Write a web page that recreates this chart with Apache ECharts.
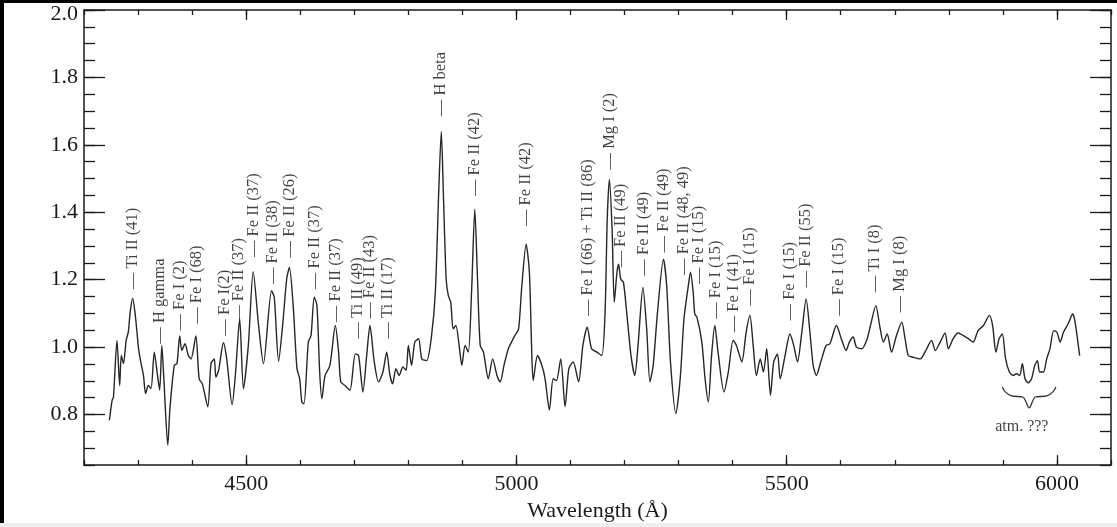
<!DOCTYPE html>
<html>
<head>
<meta charset="utf-8">
<script src="https://cdn.jsdelivr.net/npm/echarts@6/dist/echarts.min.js"></script>
<style>
html,body{margin:0;padding:0;background:#fff;}
#chart{width:1117px;height:527px;}
</style>
</head>
<body>
<div id="chart"></div>
<script>
// ---- data ----
const wavelength = [4247,4252,4254.5,4261,4266,4269,4273,4278,4282,4285.4,4290,4295,4301,4305,4310,4314,4319,4324,4330,4336,4340,4344,4348,4355,4359,4367,4372,4377,4381,4387,4393,4398,4407,4413,4419,4429,4435,4441,4444,4449,4458,4464,4474,4480,4488,4495,4504,4513,4523,4532,4547,4552,4560,4568,4575,4580,4587,4594,4599,4603,4607,4615,4620,4626,4631,4636,4640,4646,4655,4665,4671,4675,4683,4692,4702,4708,4716,4723,4729,4737,4745,4753,4760,4766,4771,4777,4783,4790,4796,4800,4806,4812,4819,4825,4834,4843,4850,4856,4861,4865,4870,4874,4878.5,4883,4888,4894,4899,4905,4911,4917,4923,4928,4933,4939,4948,4956,4964,4970,4977,4985,4991,4997,5004,5010,5018,5024,5028,5031,5039,5047,5053,5061,5068,5074,5082,5090,5097,5105,5115,5123,5131,5139,5149,5158,5164,5168,5172,5177,5181,5186,5189,5193,5198,5204,5212,5219,5225,5234,5241,5247,5253,5261,5272,5278,5285,5295,5303,5310,5318,5322,5327,5330,5334,5343,5349,5355,5361,5367,5373,5384,5392,5401,5407,5417,5425,5432,5438,5444,5451,5457,5463,5470,5476,5483,5488,5497,5506,5513,5520,5528,5536,5543,5549,5555,5563,5573,5580,5592,5602,5610,5616,5623,5629,5639,5648,5655,5665,5672,5679,5686,5694,5703,5713,5719,5725,5734,5747,5759,5768,5775,5784,5793,5799,5808,5817,5827,5836,5845,5854,5864,5875,5881,5887,5893,5899,5905,5912,5919,5925,5931,5936,5941,5947,5953,5959,5964,5968,5975,5981,5987,5994,6000,6006,6012,6019,6022,6029,6033,6042];
const flux = [0.783,0.842,0.852,1.020,0.886,0.975,0.951,1.020,1.045,1.103,1.145,1.093,0.995,0.956,0.916,0.862,0.886,0.877,0.985,0.916,0.872,1.005,0.897,0.709,0.818,0.946,0.951,1.033,0.990,1.010,0.975,0.965,1.033,0.906,0.891,0.823,0.951,0.965,0.911,0.931,1.013,0.965,0.829,0.916,1.084,0.877,1.005,1.224,1.064,0.951,1.167,1.148,0.958,1.074,1.202,1.236,1.123,0.936,0.906,0.837,0.832,1.015,1.034,1.148,1.123,0.926,0.847,0.916,0.946,1.064,0.985,0.897,0.886,0.872,0.980,0.975,0.867,0.975,1.064,0.956,0.897,0.926,0.985,0.916,0.891,0.936,0.916,0.941,0.931,1.005,0.946,1.015,1.025,0.965,0.960,1.034,1.163,1.448,1.640,1.448,1.202,1.153,1.133,1.054,1.064,1.005,0.946,1.005,0.985,1.163,1.409,1.202,1.005,0.985,0.906,0.965,0.916,0.897,0.946,0.995,1.015,1.034,1.054,1.182,1.305,1.222,1.005,0.901,0.975,0.946,0.906,0.813,0.906,0.901,0.965,0.823,0.936,0.956,0.897,1.005,1.059,0.995,0.985,0.975,1.103,1.379,1.497,1.350,1.133,1.222,1.246,1.202,1.192,1.103,0.975,0.916,1.005,1.177,1.054,0.897,0.946,1.103,1.261,1.182,0.956,0.803,0.906,1.084,1.182,1.222,1.163,1.098,1.089,1.015,0.906,0.837,0.975,1.064,0.985,0.867,0.926,1.020,1.005,0.956,1.044,1.094,1.005,0.916,0.965,0.926,0.995,0.857,0.956,0.980,0.906,0.975,1.039,1.005,0.956,1.044,1.143,1.044,0.946,0.916,0.956,1.005,1.010,1.064,1.020,0.990,1.015,1.030,1.000,0.995,1.020,1.064,1.123,1.064,1.015,1.039,0.985,1.034,1.074,1.025,0.975,0.970,0.965,0.995,1.020,0.990,1.015,1.042,0.995,1.025,1.042,1.034,1.025,1.015,1.049,1.064,1.094,1.064,0.985,1.025,1.039,0.965,0.926,0.916,0.921,0.916,0.951,0.906,0.894,0.906,0.946,0.960,0.926,0.926,0.965,0.995,1.049,1.044,1.015,1.044,1.064,1.074,1.098,1.079,0.975];

const lineNames = ["Ti II (41)","H gamma","Fe I (2)","Fe I (68)","Fe I(2)","Fe II (37)","Fe II (37)","Fe II (38)","Fe II (26)","Fe II (37)","Fe II (37)","Ti II (49)","Fe II (43)","Ti II (17)","H beta","Fe II (42)","Fe II (42)","Fe I (66) + Ti II (86)","Mg I (2)","Fe II (49)","Fe II (49)","Fe II (49)","Fe II (48, 49)","Fe I (15)","Fe I (15)","Fe I (41)","Fe I (15)","Fe I (15)","Fe II (55)","Fe I (15)","Ti I (8)","Mg I (8)"];
const lineWavelength = [4289.7,4339.6,4376.6,4408.8,4461.1,4486.1,4514.8,4549.4,4580.1,4627.6,4666.4,4705.8,4729.3,4761.3,4860.6,4923.5,5017.8,5131.9,5171.9,5193.5,5234.8,5273.1,5310,5337.8,5368.7,5402.5,5432.1,5504.8,5535.7,5595.4,5663.3,5709.5];
const lineMarkFlux = [1.172,1.010,1.049,1.069,1.034,1.075,1.267,1.187,1.266,1.172,1.074,1.025,1.084,1.025,1.685,1.448,1.359,1.092,1.527,1.236,1.212,1.281,1.214,1.187,1.084,1.044,1.123,1.079,1.177,1.093,1.163,1.103];

const braceWavelength = [5899,5904,5916,5937,5948.6,5960,5981,5993,5998];
const braceFlux = [0.882,0.868,0.855,0.852,0.820,0.852,0.855,0.868,0.882];
const atmNote = {text: "atm. ???", wavelength: 5935, flux: 0.763};

const xMajorTicks = [4500,5000,5500,6000];
const yMajorTicks = [0.8,1.0,1.2,1.4,1.6,1.8,2.0];
const xRange = [4200, 6100];
const yRange = [0.65, 2.0];
const xAxisTitle = "Wavelength (Å)";

// ---- chart ----
const FONT = "Liberation Serif";
const INK = "#1a1a1a";
const chart = echarts.init(document.getElementById('chart'), null, {renderer: 'canvas'});

function xAx(pos, major, withLabel) {
  const a = {
    type: 'value', position: pos, min: xRange[0], max: xRange[1],
    splitLine: {show: false},
    axisLine: {show: !major, lineStyle: {color: INK, width: 1.5}},
    axisTick: {show: true, inside: true, length: major ? 10 : 5, lineStyle: {color: INK, width: 1.3}},
    axisLabel: {show: false}
  };
  if (major) {
    a.axisTick.customValues = xMajorTicks;
    if (withLabel) {
      a.axisLabel = {show: true, customValues: xMajorTicks, fontFamily: FONT, fontSize: 22, color: INK, margin: 8,
        formatter: v => String(v)};
      a.name = xAxisTitle; a.nameLocation = 'middle'; a.nameGap = 27;
      a.nameTextStyle = {fontFamily: FONT, fontSize: 22, color: INK};
    }
  } else {
    a.interval = 100;
  }
  return a;
}
function yAx(pos, major, withLabel) {
  const a = {
    type: 'value', position: pos, min: yRange[0], max: yRange[1],
    splitLine: {show: false},
    axisLine: {show: !major, lineStyle: {color: INK, width: 1.5}},
    axisTick: {show: true, inside: true, length: major ? 21 : 11, lineStyle: {color: INK, width: 1.3}},
    axisLabel: {show: false}
  };
  if (major) {
    a.axisTick.customValues = yMajorTicks;
    if (withLabel) {
      a.axisLabel = {show: true, customValues: yMajorTicks, fontFamily: FONT, fontSize: 22, color: INK, margin: 6,
        formatter: v => (Math.abs(v - yRange[1]) < 1e-9 ? '{top|' : '{n|') + Number(v).toFixed(1) + '}',
        rich: {top: {fontFamily: FONT, fontSize: 22, color: INK, padding: [9, 0, 0, 0]},
               n: {fontFamily: FONT, fontSize: 22, color: INK}}};
    }
  } else {
    a.interval = 0.05;
  }
  return a;
}

const spectrum = wavelength.map((w, i) => [w, flux[i]]);
const marks = lineWavelength.map((w, i) => ({value: [w, lineMarkFlux[i]], name: lineNames[i]}));
const brace = braceWavelength.map((w, i) => [w, braceFlux[i]]);

chart.setOption({
  animation: false,
  backgroundColor: '#fff',
  grid: {left: 84, right: 6, top: 10, bottom: 60, containLabel: false},
  xAxis: [xAx('bottom', false), xAx('bottom', true, true), xAx('top', false), xAx('top', true, false)],
  yAxis: [yAx('left', false), yAx('left', true, true), yAx('right', false), yAx('right', true, false)],
  graphic: [
    {type: 'rect', left: 0, top: 0, shape: {width: 4, height: 527}, style: {fill: '#000'}, silent: true},
    {type: 'rect', left: 0, top: 0, shape: {width: 1117, height: 3}, style: {fill: '#000'}, silent: true},
    {type: 'rect', left: 0, top: 523, shape: {width: 1117, height: 4}, style: {fill: '#efefef'}, silent: true}
  ],
  series: [
    {
      type: 'line', data: spectrum, xAxisIndex: 0, yAxisIndex: 0,
      showSymbol: false, smooth: 0.25, lineStyle: {color: '#262626', width: 1.4}, silent: true
    },
    {
      type: 'scatter', data: marks, xAxisIndex: 0, yAxisIndex: 0,
      symbolSize: 1, itemStyle: {color: 'rgba(0,0,0,0)'}, silent: true,
      label: {
        show: true, position: 'inside', rotate: 90, align: 'left', verticalAlign: 'middle',
        formatter: p => '— ' + p.name, fontFamily: FONT, fontSize: 16.5, color: '#111'
      }
    },
    {
      type: 'line', data: brace, xAxisIndex: 0, yAxisIndex: 0,
      showSymbol: false, smooth: 0.3, lineStyle: {color: '#333', width: 1.3}, silent: true
    },
    {
      type: 'scatter', data: [{value: [atmNote.wavelength, atmNote.flux], name: atmNote.text}],
      xAxisIndex: 0, yAxisIndex: 0, symbolSize: 1, itemStyle: {color: 'rgba(0,0,0,0)'}, silent: true,
      label: {show: true, position: 'inside', formatter: p => p.name, fontFamily: FONT, fontSize: 16, color: '#111'}
    }
  ]
});
</script>
</body>
</html>
